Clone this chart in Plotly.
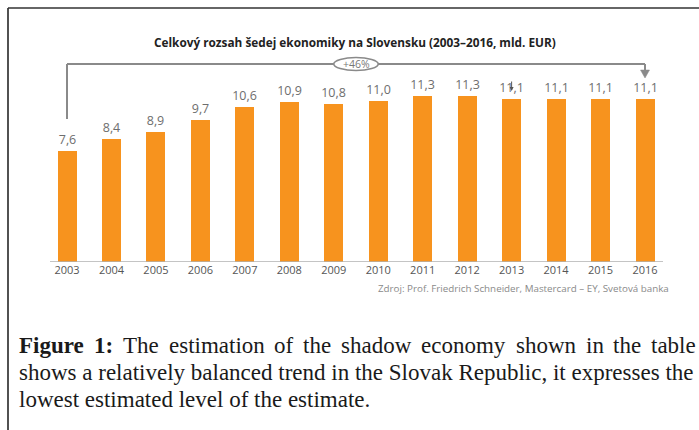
import plotly.graph_objects as go

years = [2003, 2004, 2005, 2006, 2007, 2008, 2009, 2010, 2011, 2012, 2013, 2014, 2015, 2016]
values = [7.6, 8.4, 8.9, 9.7, 10.6, 10.9, 10.8, 11.0, 11.3, 11.3, 11.1, 11.1, 11.1, 11.1]
value_labels = [f"{v:.1f}".replace(".", ",") for v in values]
tick_labels = [str(y) for y in years]
growth_label = "+46%"
title_text = "Celkový rozsah šedej ekonomiky na Slovensku (2003–2016, mld. EUR)"
source_text = "Zdroj: Prof. Friedrich Schneider, Mastercard – EY, Svetová banka"
caption_line1_bold = ["Figure", "1:"]
caption_line1_words = ["The", "estimation", "of", "the", "shadow", "economy", "shown", "in", "the", "table"]
caption_line2 = "shows a relatively balanced trend in the Slovak Republic, it expresses the"
caption_line3 = "lowest estimated level of the estimate."

W, H = 699, 430
ORANGE = "#F7931E"
GRAY = "#8a8a8a"


def px(x):
    return x / W


def py(y):
    return 1 - y / H


# Times-compatible (Liberation Serif) advance widths, per 1000 em, for justification
TIMES = dict(zip("abcdefghijklmnopqrstuvwxyz",
                 [444, 500, 444, 500, 444, 333, 500, 500, 278, 278, 500, 278, 778,
                  500, 500, 500, 500, 333, 389, 278, 500, 500, 722, 500, 500, 444]))
TIMES.update({"T": 611, " ": 250})
TIMES_BOLD = {"F": 611, "i": 278, "g": 500, "u": 556, "r": 444, "e": 444, "1": 500, ":": 333}


def wwidth(word, table, size):
    return sum(table.get(c, 500) for c in word) * size / 1000


# plot area geometry (window pixels)
X_LEFT, X_RIGHT = 50, 663
Y_TOP, Y_BASE = 8, 262
PX_PER_YEAR = 44.46
PX_PER_UNIT = 14.65
x_range = [years[0] - (67 - X_LEFT) / PX_PER_YEAR, years[-1] + (X_RIGHT - 645) / PX_PER_YEAR]
y_range = [0, (Y_BASE - Y_TOP) / PX_PER_UNIT]

fig = go.Figure()
fig.add_trace(go.Bar(
    x=years, y=values, width=19 / PX_PER_YEAR,
    marker=dict(color=ORANGE, line=dict(width=0)),
    text=value_labels, textposition="outside", constraintext="none",
    textfont=dict(family="Open Sans", size=12.5, color="#6e6e6e"),
    cliponaxis=False, hoverinfo="skip",
))

shapes = []
# frame (top and left edges)
shapes.append(dict(type="line", xref="paper", yref="paper", x0=px(8), x1=1.01, y0=py(8), y1=py(8),
                   line=dict(color="#333333", width=1.7)))
shapes.append(dict(type="line", xref="paper", yref="paper", x0=px(8), x1=px(8), y0=py(8), y1=-0.01,
                   line=dict(color="#333333", width=1.7)))
# bracket
bl = dict(color=GRAY, width=2)
shapes.append(dict(type="line", xref="x", yref="paper", x0=years[0], x1=years[0], y0=py(119), y1=py(64), line=bl))
shapes.append(dict(type="line", xref="x", yref="paper", x0=years[0], x1=years[-1], y0=py(64), y1=py(64), line=bl))
shapes.append(dict(type="line", xref="x", yref="paper", x0=years[-1], x1=years[-1], y0=py(64), y1=py(71), line=bl))
hw = 4.5 / PX_PER_YEAR
shapes.append(dict(type="path", xref="x", yref="paper",
                   path=f"M {years[-1]-hw},{py(70)} L {years[-1]+hw},{py(70)} L {years[-1]},{py(78)} Z",
                   fillcolor=GRAY, line=dict(color=GRAY, width=0.5)))
mid = (years[0] + years[-1]) / 2
shapes.append(dict(type="circle", xref="x", yref="paper", x0=mid - 0.5, x1=mid + 0.5, y0=py(70.5), y1=py(57.5),
                   fillcolor="white", line=dict(color=GRAY, width=1.6)))
# base axis line
shapes.append(dict(type="line", xref="paper", yref="y", x0=px(X_LEFT), x1=px(X_RIGHT), y0=0, y1=0,
                   line=dict(color="#b0b0b0", width=1.5)))

annotations = []


def note(text, x, y, xanchor="center", font=None, xref="paper"):
    annotations.append(dict(text=text, x=x, y=y, xref=xref, yref="paper", xanchor=xanchor, yanchor="middle",
                            showarrow=False, font=font))


note(f"<b>{title_text}</b>", px(355), py(42), font=dict(family="Open Sans", size=11.8, color="#222222"))
note(growth_label, mid, py(64), xref="x", font=dict(family="Open Sans", size=10.5, color="#777777"))
note(source_text, px(671), py(288), xanchor="right", font=dict(family="Open Sans", size=9.8, color="#8a8a8a"))
# small stray arrow over 2013 label
annotations.append(dict(text="", x=years[10], y=py(91), xref="x", yref="paper", ax=0, ay=-11,
                        showarrow=True, arrowhead=2, arrowsize=0.8, arrowwidth=1, arrowcolor="#555555"))

CAP_SIZE = 23
cap_font = dict(family="Liberation Serif", size=CAP_SIZE, color="#1a1a1a")
# justified first caption line
LINE_L, LINE_R = 17, 694
items = [(f"<b>{w}</b>", wwidth(w, TIMES_BOLD, CAP_SIZE)) for w in caption_line1_bold] + \
        [(w, wwidth(w, TIMES, CAP_SIZE)) for w in caption_line1_words]
total = sum(wd for _, wd in items)
gap = (LINE_R - LINE_L - total) / (len(items) - 1)
xpos = LINE_L
for txt, wd in items:
    note(txt, px(xpos), py(345), xanchor="left", font=cap_font)
    xpos += wd + gap
note(caption_line2, px(LINE_L), py(372), xanchor="left", font=cap_font)
note(caption_line3, px(LINE_L), py(399), xanchor="left", font=cap_font)

fig.update_layout(
    width=W, height=H, margin=dict(l=0, r=0, t=0, b=0),
    paper_bgcolor="white", plot_bgcolor="white", showlegend=False,
    shapes=shapes, annotations=annotations, bargap=0,
    xaxis=dict(domain=[px(X_LEFT), px(X_RIGHT)], range=x_range, tickmode="array", tickvals=years,
               ticktext=tick_labels, showgrid=False, zeroline=False, showline=False, ticks="",
               tickfont=dict(family="Open Sans", size=11, color="#555555"), fixedrange=True),
    yaxis=dict(domain=[py(Y_BASE), py(Y_TOP)], range=y_range, visible=False, fixedrange=True),
)

fig.write_html("out.html", config={"displayModeBar": False},
               post_script="document.body.style.margin='0';document.body.style.overflow='hidden';")
